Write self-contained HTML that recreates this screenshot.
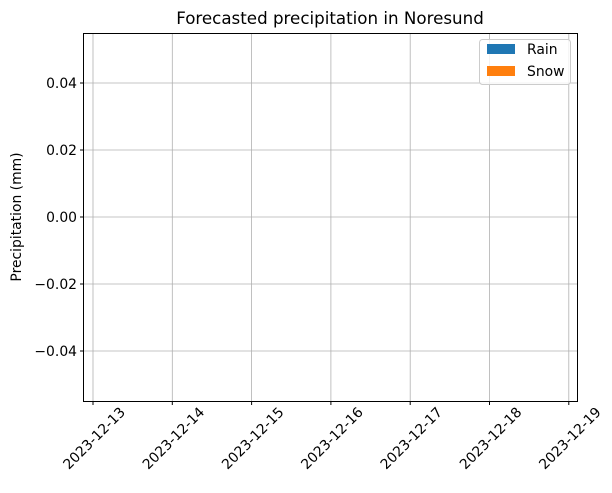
<!DOCTYPE html>
<html><head><meta charset="utf-8"><style>
body{margin:0;background:#fff;font-family:"Liberation Sans","DejaVu Sans",sans-serif}
svg text{font-family:"DejaVu Sans","Liberation Sans",sans-serif}
</style></head><body>
<svg id="chart" width="612" height="488" xmlns="http://www.w3.org/2000/svg">
<rect width="612" height="488" fill="#fff"/>
<g id="grid"></g>
<g id="bars"></g>
<rect x="83.5" y="33.5" width="494" height="368" fill="none" stroke="#000" stroke-width="1"/>
<g id="axes"></g>
<text x="330" y="24" text-anchor="middle" font-size="16.7">Forecasted precipitation in Noresund</text>
<text transform="translate(21,217) rotate(-90)" text-anchor="middle" font-size="13.9">Precipitation (mm)</text>
<g>
<rect x="479.5" y="39.5" width="91" height="45" rx="3" fill="#fff" fill-opacity="0.8" stroke="#ccc"/>
<rect x="487" y="44" width="28" height="10" fill="#1f77b4"/>
<text x="527" y="54" font-size="13.9">Rain</text>
<rect x="487" y="66" width="28" height="10" fill="#ff7f0e"/>
<text x="527" y="76" font-size="13.9">Snow</text>
</g>
</svg>
<script>
const dates=["2023-12-13","2023-12-14","2023-12-15","2023-12-16","2023-12-17","2023-12-18","2023-12-19"];
const rain=[0,0,0,0,0,0,0];
const snow=[0,0,0,0,0,0,0];
const yTicks=[0.04,0.02,0.00,-0.02,-0.04];
const yTickLabels=["0.04","0.02","0.00","−0.02","−0.04"];
const NS="http://www.w3.org/2000/svg";
const x=i=>93+i*79.3;
const y=v=>217-v*3350;
const grid=document.getElementById('grid'),axes=document.getElementById('axes'),bars=document.getElementById('bars');
function mk(tag,attrs,parent){const e=document.createElementNS(NS,tag);for(const k in attrs)e.setAttribute(k,attrs[k]);parent.appendChild(e);return e;}
dates.forEach((d,i)=>{
 const g=mk('line',{x1:x(i),x2:x(i),y1:33.5,y2:401.5,stroke:'#b0b0b0','stroke-width':0.8},grid);
 
 
 const t=mk('line',{x1:x(i),x2:x(i),y1:401.5,y2:405,stroke:'#000'},axes);
 
 
 const tx=x(i)+33,ty=413;
 const l=mk('text',{x:tx,y:ty,'font-size':13.9,'text-anchor':'end',transform:`rotate(-45 ${tx} ${ty})`},axes);
 l.textContent=d;
 
 
 const br=mk('rect',{x:x(i)-30,y:Math.min(y(rain[i]),y(0)),width:60,height:Math.abs(y(rain[i])-y(0)),fill:'#1f77b4'},bars);
 
 
 const bs=mk('rect',{x:x(i)-30,y:Math.min(y(rain[i]+snow[i]),y(rain[i])),width:60,height:Math.abs(y(snow[i])-y(0)),fill:'#ff7f0e'},bars);
 
 
});
yTicks.forEach((v,i)=>{
 const g=mk('line',{x1:83.5,x2:577.5,y1:y(v),y2:y(v),stroke:'#b0b0b0','stroke-width':0.8},grid);
 
 
 const t=mk('line',{x1:80,x2:83.5,y1:y(v),y2:y(v),stroke:'#000'},axes);
 
 
 const l=mk('text',{x:77,y:y(v)+5,'font-size':13.9,'text-anchor':'end'},axes);
 l.textContent=yTickLabels[i];
 
 
});
</script>
</body></html>
